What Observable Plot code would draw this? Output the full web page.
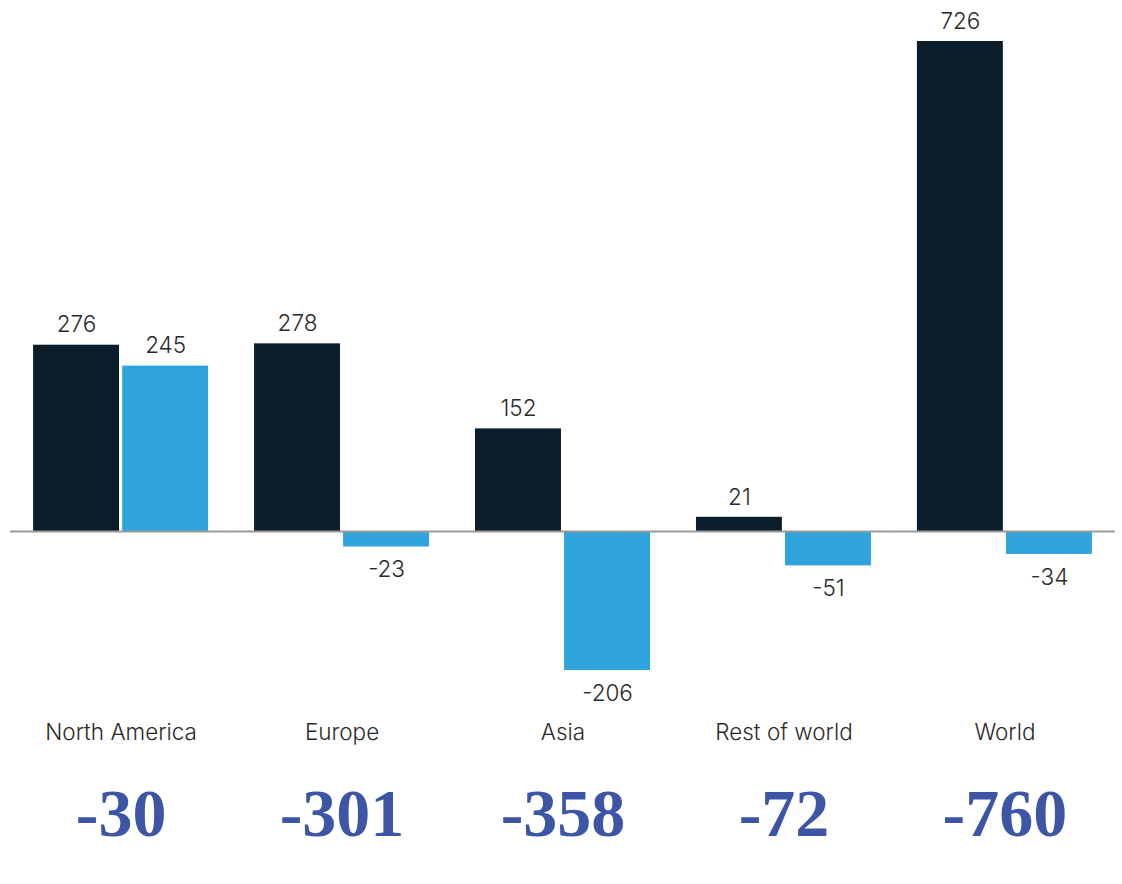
<!DOCTYPE html>
<html>
<head>
<meta charset="utf-8">
<script src="https://cdn.jsdelivr.net/npm/d3@7"></script>
<script src="https://cdn.jsdelivr.net/npm/@observablehq/plot@0.6"></script>
<style>
  html, body { margin: 0; padding: 0; background: #fff; }
  #chart svg { display: block; }
</style>
</head>
<body>
<div id="chart"></div>
<script>
const regions = ["North America", "Europe", "Asia", "Rest of world", "World"];
const seriesNames = ["First", "Second"];
const firstValues = [276, 278, 152, 21, 726];
const secondValues = [245, -23, -206, -51, -34];
const totals = [-30, -301, -358, -72, -760];
const seriesColors = ["#0b1c2b", "#2ea3dc"];

const bars = [];
regions.forEach((r, i) => {
  bars.push({region: r, series: seriesNames[0], value: firstValues[i]});
  bars.push({region: r, series: seriesNames[1], value: secondValues[i]});
});
const summary = regions.map((r, i) => ({region: r, total: totals[i]}));

const sans = "Inter, 'Liberation Sans', Arial, sans-serif";

const chart = Plot.plot({
  width: 1122,
  height: 884,
  marginTop: 41,
  marginBottom: 214,
  marginLeft: 11,
  marginRight: 8,
  style: {fontFamily: sans, background: "#fff"},
  fx: {domain: regions, axis: null, paddingInner: 0.208, paddingOuter: 0.1, round: false, label: null},
  x: {domain: seriesNames, axis: null, paddingInner: 0.035, paddingOuter: 0, round: false},
  y: {domain: [-206, 726], axis: null},
  color: {domain: seriesNames, range: seriesColors},
  marks: [
    Plot.barY(bars, {fx: "region", x: "series", y: "value", fill: "series"}),
    Plot.ruleY([0], {stroke: "#9a9a9a", strokeWidth: 2, insetLeft: -23, insetRight: -23}),
    Plot.text(bars, {
      filter: d => d.value >= 0,
      fx: "region", x: "series", y: "value", text: d => String(d.value),
      dy: -20, fontSize: 22.5, fontWeight: 300, fill: "#2a2a2a"
    }),
    Plot.text(bars, {
      filter: d => d.value < 0,
      fx: "region", x: "series", y: "value", text: d => String(d.value),
      dy: 23, fontSize: 22.5, fontWeight: 300, fill: "#2a2a2a"
    }),
    Plot.text(summary, {
      fx: "region", text: "region", frameAnchor: "bottom",
      dy: 69, fontSize: 22.5, fontWeight: 300, fill: "#2a2a2a"
    }),
    Plot.text(summary, {
      fx: "region", text: d => String(d.total), frameAnchor: "bottom",
      dy: 165, fontSize: 68, fontWeight: "bold",
      fontFamily: "'Liberation Serif', 'DejaVu Serif', serif", fill: "#3d55a5"
    })
  ]
});
document.getElementById("chart").appendChild(chart);
</script>
</body>
</html>
